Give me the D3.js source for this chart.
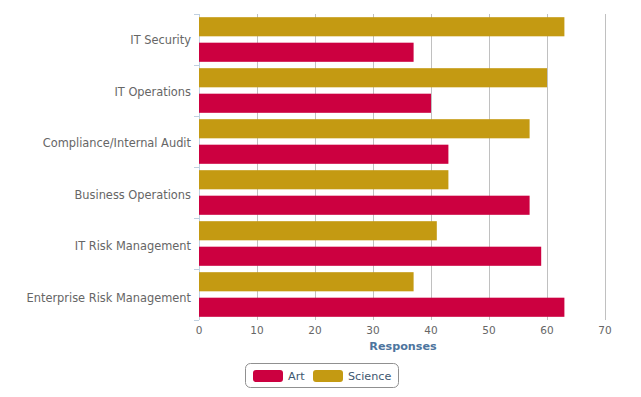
<!DOCTYPE html>
<html><head><meta charset="utf-8">
<script src="https://cdn.jsdelivr.net/npm/d3@7/dist/d3.min.js"></script>
<style>body{margin:0;background:#fff}svg{display:block}</style>
</head><body>
<svg id="c" width="641" height="397"></svg>
<script>
const categories = ["IT Security","IT Operations","Compliance/Internal Audit","Business Operations","IT Risk Management","Enterprise Risk Management"];
const seriesNames = ["Science","Art"];
const scienceValues = [63,60,57,43,41,37];
const artValues = [37,40,43,57,59,63];
const xTicks = [0,10,20,30,40,50,60,70];
const legendOrder = ["Art","Science"];
const colors = {Art:"#cc0040", Science:"#c49a12"};

(function(){
const svg = d3.select("#c");
const font = "DejaVu Sans, sans-serif";
const pL = 199, pR = 605, pT = 14, pB = 320;

const x = d3.scaleLinear().domain([0,70]).range([pL,pR]);
const y = d3.scaleBand().domain(categories).range([pT,pB]).padding(0);
const yLab = d3.scaleBand().domain(categories).range([pT,pB+3]).padding(0);
const ys = d3.scaleBand().domain(seriesNames).range([0,y.bandwidth()]).paddingInner(0.25).paddingOuter(0.125);

svg.append("g").selectAll("line").data(xTicks.slice(1)).join("line")
  .attr("x1",d=>Math.round(x(d))+0.5).attr("x2",d=>Math.round(x(d))+0.5)
  .attr("y1",pT).attr("y2",pB).attr("stroke","#c0c0c0").attr("stroke-width",1);

svg.append("line").attr("x1",pL+0.5).attr("x2",pL+0.5).attr("y1",pT).attr("y2",pB)
  .attr("stroke","#c0d0e0");
const bounds = categories.map(c=>y(c)).concat([pB]);
svg.append("g").selectAll("line").data(bounds).join("line")
  .attr("x1",pL-5).attr("x2",pL).attr("y1",d=>Math.round(d)+0.5).attr("y2",d=>Math.round(d)+0.5)
  .attr("stroke","#c0d0e0");

const data = [];
categories.forEach((c,i)=>{
  data.push({c, s:"Science", v:scienceValues[i]});
  data.push({c, s:"Art", v:artValues[i]});
});
svg.append("g").selectAll("rect").data(data).join("rect")
  .attr("x",x(0)).attr("y",d=>y(d.c)+ys(d.s))
  .attr("width",d=>x(d.v)-x(0)).attr("height",ys.bandwidth())
  .attr("fill",d=>colors[d.s]);

svg.append("g").selectAll("text").data(categories).join("text")
  .attr("x",pL-8).attr("y",d=>yLab(d)+yLab.bandwidth()/2+0.3)
  .attr("dy","0.35em").attr("text-anchor","end")
  .attr("font-family",font).attr("font-size",11.4).attr("fill","#666")
  .text(d=>d);

svg.append("g").selectAll("text").data(xTicks).join("text")
  .attr("x",d=>x(d)).attr("y",334).attr("text-anchor","middle")
  .attr("font-family",font).attr("font-size",10.5).attr("fill","#666")
  .text(d=>d);

svg.append("text").attr("x",(pL+pR)/2+1).attr("y",350).attr("text-anchor","middle")
  .attr("font-family",font).attr("font-size",11.2).attr("font-weight","bold").attr("fill","#4d759e")
  .text("Responses");

const lg = svg.append("g");
lg.append("rect").attr("x",245.5).attr("y",363.5).attr("width",153).attr("height",24).attr("rx",5)
  .attr("fill","#fff").attr("stroke","#909090");
const lx = {Art:253, Science:313};
const tx = {Art:288, Science:348};
legendOrder.forEach(n=>{
  lg.append("rect").attr("x",lx[n]).attr("y",370).attr("width",30).attr("height",12).attr("rx",3)
    .attr("fill",colors[n]);
  lg.append("text").attr("x",tx[n]).attr("y",380).attr("font-family",font).attr("font-size",11.2)
    .attr("fill","#3e576f").text(n);
});
})();
</script>
</body></html>
